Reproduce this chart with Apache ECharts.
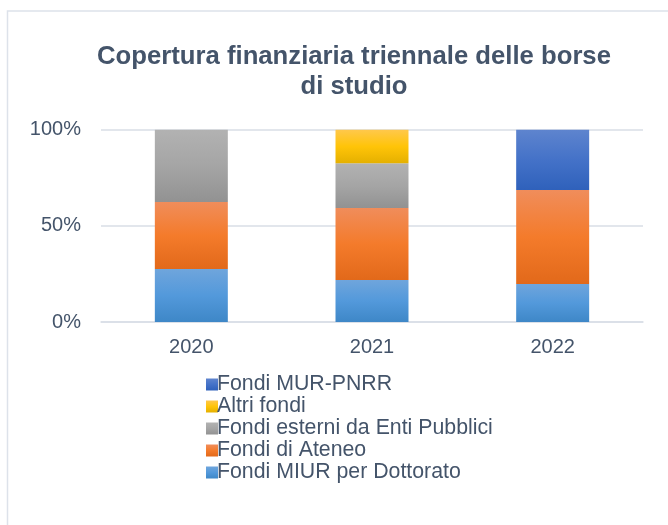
<!DOCTYPE html>
<html>
<head>
<meta charset="utf-8">
<script src="https://cdn.jsdelivr.net/npm/echarts@6/dist/echarts.min.js"></script>
<style>
  html, body { margin: 0; padding: 0; background: #ffffff; }
  #chart { width: 668px; height: 525px; }
</style>
</head>
<body>
<div id="chart"></div>
<script>
// Anni accademici
const years = ['2020', '2021', '2022'];

// Quote percentuali di copertura per fonte
const fondiMIUR = [27.6, 21.8, 19.8];
const fondiAteneo = [34.8, 37.5, 48.8];
const fondiEsterni = [37.6, 23.2, 0];
const altriFondi = [0, 17.5, 0];
const fondiPNRR = [0, 0, 31.4];

const seriesNames = [
  'Fondi MIUR per Dottorato',
  'Fondi di Ateneo',
  'Fondi esterni da Enti Pubblici',
  'Altri fondi',
  'Fondi MUR-PNRR'
];
const seriesValues = [fondiMIUR, fondiAteneo, fondiEsterni, altriFondi, fondiPNRR];

const yTicks = [0, 50, 100];

// Sfumature verticali per ciascuna fonte (alto, centro, basso)
const gradients = [
  ['#6fa5dc', '#5399db', '#3e87c7'],
  ['#f08d5b', '#f47b2b', '#e2691a'],
  ['#b2b2b2', '#a5a5a5', '#929292'],
  ['#ffc84c', '#ffc408', '#e4b000'],
  ['#5e84ce', '#4472c8', '#2f61bb']
];

function grad(c) {
  return new echarts.graphic.LinearGradient(0, 0, 0, 1, [
    { offset: 0, color: c[0] },
    { offset: 0.5, color: c[1] },
    { offset: 1, color: c[2] }
  ]);
}

const textColor = '#44546a';
const font = 'Liberation Sans, Arial, sans-serif';

const chart = echarts.init(document.getElementById('chart'), null, { renderer: 'canvas' });

chart.setOption({
  animation: false,
  backgroundColor: '#ffffff',
  graphic: [{
    type: 'rect',
    shape: { x: 7.5, y: 11, width: 720, height: 600 },
    style: { fill: 'none', stroke: '#dde2ea', lineWidth: 1.5 },
    silent: true
  }],
  title: {
    text: 'Copertura finanziaria triennale delle borse\ndi studio',
    left: 349,
    textAlign: 'center',
    top: 37,
    textStyle: {
      fontFamily: font,
      fontSize: 25.7,
      fontWeight: 'bold',
      color: textColor,
      lineHeight: 30
    }
  },
  legend: {
    orient: 'vertical',
    left: 201,
    top: 369,
    itemWidth: 12,
    itemHeight: 12,
    itemGap: 1,
    icon: 'rect',
    data: seriesNames.slice().reverse(),
    textStyle: {
      fontFamily: font,
      fontSize: 21.3,
      lineHeight: 20,
      color: textColor,
      padding: [0, 0, 0, -6]
    }
  },
  grid: {
    left: 101,
    right: 25,
    top: 129.7,
    bottom: 203,
    containLabel: false
  },
  xAxis: {
    type: 'category',
    data: years,
    axisLine: { show: true, lineStyle: { color: '#d9dee6', width: 1.5 } },
    axisTick: { show: false },
    axisLabel: {
      fontFamily: font,
      fontSize: 20,
      color: textColor,
      margin: 15
    }
  },
  yAxis: {
    type: 'value',
    min: yTicks[0],
    max: yTicks[yTicks.length - 1],
    interval: 50,
    axisLine: { show: false },
    axisTick: { show: false },
    splitLine: { lineStyle: { color: '#d9dee6', width: 1.5 } },
    axisLabel: {
      fontFamily: font,
      fontSize: 20,
      color: textColor,
      margin: 20,
      formatter: '{value}%'
    }
  },
  series: seriesNames.map((name, i) => ({
    name: name,
    type: 'bar',
    stack: 'totale',
    barWidth: '40.4%',
    data: seriesValues[i],
    itemStyle: { color: grad(gradients[i]) }
  }))
});
</script>
</body>
</html>
